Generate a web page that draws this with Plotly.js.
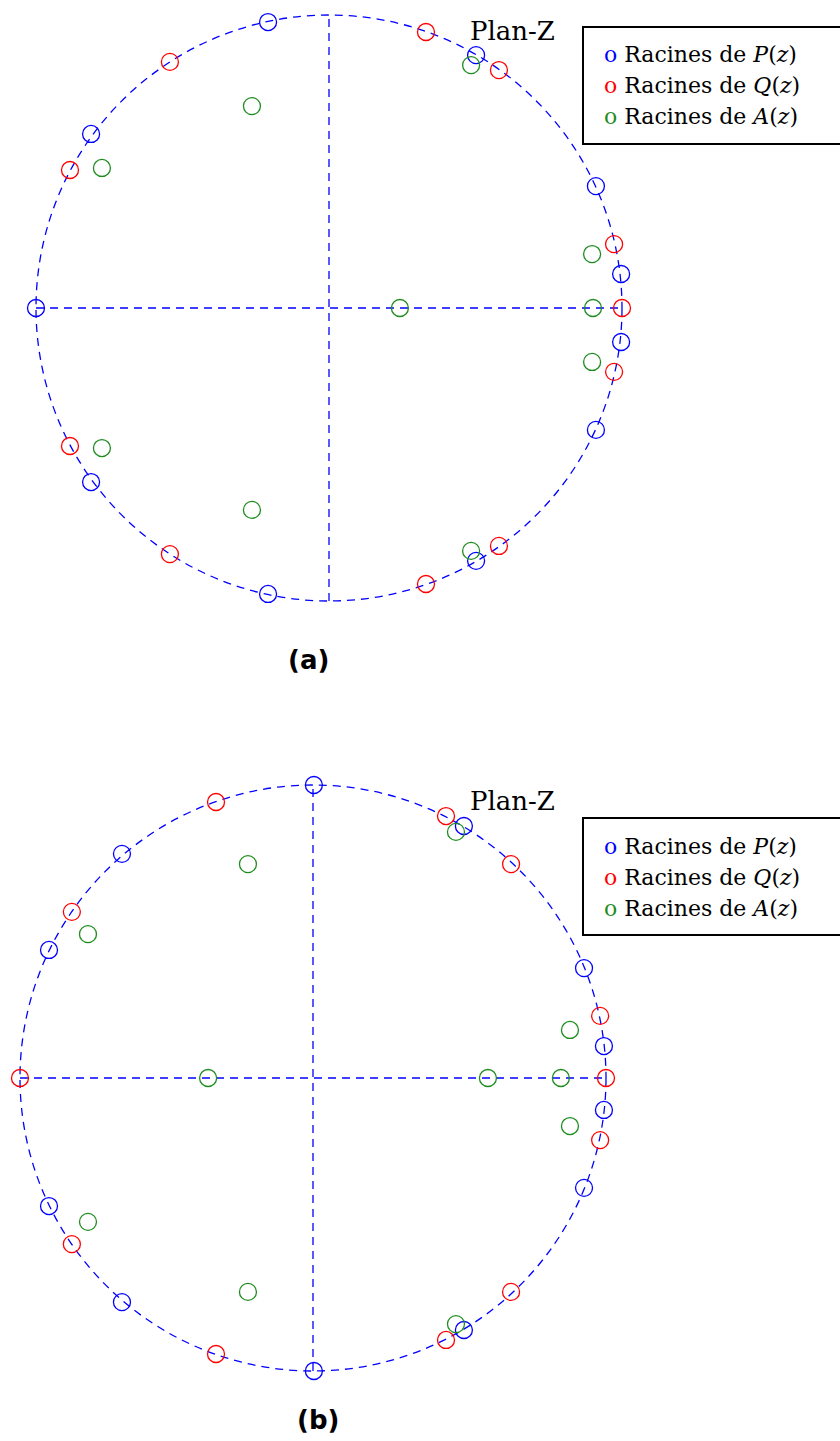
<!DOCTYPE html>
<html>
<head>
<meta charset="utf-8">
<script src="https://cdn.plot.ly/plotly-3.0.1.min.js"></script>
<style>html,body{margin:0;padding:0;background:#fff;}#chart{width:840px;height:1441px;}</style>
</head>
<body>
<div id="chart"></div>
<script>
// Panel (a): roots (real, imaginary parts)
const pA_re = [-1.000, -0.208, -0.208, 0.502, 0.502, -0.812, -0.812, 0.911, 0.911, 0.997, 0.997];
const pA_im = [ 0.000,  0.976, -0.976, 0.863, -0.863, 0.594, -0.594, 0.416, -0.416, 0.116, -0.116];
const qA_re = [1.000, 0.331, 0.331, -0.543, -0.543, 0.580, 0.580, -0.884, -0.884, 0.973, 0.973];
const qA_im = [0.000, 0.942, -0.942, 0.840, -0.840, 0.812, -0.812, 0.471, -0.471, 0.218, -0.218];
const aA_re = [-0.263, -0.263, 0.485, 0.485, -0.775, -0.775, 0.898, 0.898, 0.901, 0.242];
const aA_im = [ 0.689, -0.689, 0.829, -0.829, 0.478, -0.478, 0.184, -0.184, 0.000, 0.000];

// Panel (b)
const pB_re = [0.003, 0.003, 0.515, 0.515, -0.652, -0.652, -0.901, -0.901, 0.925, 0.925, 0.993, 0.993];
const pB_im = [1.000, -1.000, 0.860, -0.860, 0.765, -0.765, 0.437, -0.437, 0.375, -0.375, 0.109, -0.109];
const qB_re = [-0.331, -0.331, 0.454, 0.454, 0.676, 0.676, -0.823, -0.823, 0.980, 0.980, 1.000, -1.000];
const qB_im = [ 0.942, -0.942, 0.894, -0.894, 0.730, -0.730, 0.567, -0.567, 0.212, -0.212, 0.000, 0.000];
const aB_re = [-0.222, -0.222, 0.488, 0.488, -0.768, -0.768, 0.877, 0.877, -0.358, 0.597, 0.846];
const aB_im = [ 0.730, -0.730, 0.840, -0.840, 0.491, -0.491, 0.164, -0.164, 0.000, 0.000, 0.000];

const legendLabels = ['Racines de <i>P</i>(<i>z</i>)', 'Racines de <i>Q</i>(<i>z</i>)', 'Racines de <i>A</i>(<i>z</i>)'];
const panelLabels = ['<b>(a)</b>', '<b>(b)</b>'];
const planeTitle = 'Plan-Z';

const BLUE = 'rgb(0,0,255)', RED = 'rgb(255,0,0)', GREEN = 'rgb(30,140,30)';
const W = 840, H = 1441;

function mk(x, y, color, xa, ya) {
  return {x: x, y: y, type: 'scatter', mode: 'markers', xaxis: xa, yaxis: ya,
    marker: {symbol: 'circle-open', size: 17, color: color, line: {width: 1.3, color: color}},
    cliponaxis: false, showlegend: false, hoverinfo: 'x+y'};
}

const traces = [
  mk(pA_re, pA_im, BLUE, 'x', 'y'),
  mk(qA_re, qA_im, RED, 'x', 'y'),
  mk(aA_re, aA_im, GREEN, 'x', 'y'),
  mk(pB_re, pB_im, BLUE, 'x2', 'y2'),
  mk(qB_re, qB_im, RED, 'x2', 'y2'),
  mk(aB_re, aB_im, GREEN, 'x2', 'y2')
];

const R = 293;
const panels = [{cx: 329, cy: 308, top: 0, bot: 720.5}, {cx: 313, cy: 1078, top: 720.5, bot: 1441}];

function ax(p, domain) {
  return {range: [-p.cx / R, (W - p.cx) / R], domain: domain, showgrid: false, zeroline: false,
    showticklabels: false, ticks: '', showline: false, fixedrange: true};
}
function ay(p, domain) {
  return {range: [(p.cy - p.bot) / R, (p.cy - p.top) / R], domain: domain, showgrid: false, zeroline: false,
    showticklabels: false, ticks: '', showline: false, fixedrange: true};
}

const dashLine = {color: BLUE, width: 1.3, dash: '8px,6px'};
const shapes = [];
[['x', 'y'], ['x2', 'y2']].forEach(function (r) {
  shapes.push({type: 'circle', xref: r[0], yref: r[1], x0: -1, x1: 1, y0: -1, y1: 1, line: dashLine, layer: 'below'});
  shapes.push({type: 'line', xref: r[0], yref: r[1], x0: -1, x1: 1, y0: 0, y1: 0, line: dashLine, layer: 'below'});
  shapes.push({type: 'line', xref: r[0], yref: r[1], x0: 0, x1: 0, y0: -1, y1: 1, line: dashLine, layer: 'below'});
});

const legendBoxes = [{top: 27, bot: 144, rows: [55, 86, 117], title: 31, label: [308, 660]},
                     {top: 818, bot: 935, rows: [846, 877, 908], title: 801, label: [318, 1420]}];
const annotations = [];
const colors = [BLUE, RED, GREEN];
legendBoxes.forEach(function (b) {
  shapes.push({type: 'rect', xref: 'paper', yref: 'paper', x0: 583 / W, x1: 1.02, y0: 1 - b.top / H, y1: 1 - b.bot / H,
    line: {color: 'black', width: 2}, fillcolor: 'rgba(0,0,0,0)'});
  b.rows.forEach(function (py, i) {
    annotations.push({xref: 'paper', yref: 'paper', x: 602 / W, y: 1 - py / H, xanchor: 'left', yanchor: 'middle',
      showarrow: false, text: '<span style="color:' + colors[i] + '">o</span> ' + legendLabels[i],
      font: {family: 'DejaVu Serif', size: 22, color: 'black'}});
  });
  annotations.push({xref: 'paper', yref: 'paper', x: 512 / W, y: 1 - b.title / H, xanchor: 'center', yanchor: 'middle',
    showarrow: false, text: planeTitle, font: {family: 'DejaVu Serif', size: 26, color: 'black'}});
});
legendBoxes.forEach(function (b, i) {
  annotations.push({xref: 'paper', yref: 'paper', x: b.label[0] / W, y: 1 - b.label[1] / H, xanchor: 'center', yanchor: 'middle',
    showarrow: false, text: panelLabels[i], font: {family: 'DejaVu Sans', size: 26, color: 'black'}});
});

const layout = {
  width: W, height: H, margin: {l: 0, r: 0, t: 0, b: 0}, paper_bgcolor: 'white', plot_bgcolor: 'white',
  showlegend: false,
  xaxis: ax(panels[0], [0, 1]), yaxis: ay(panels[0], [0.5, 1]),
  xaxis2: ax(panels[1], [0, 1]), yaxis2: ay(panels[1], [0, 0.5]),
  shapes: shapes, annotations: annotations
};

Plotly.newPlot('chart', traces, layout, {displayModeBar: false, staticPlot: true});
</script>
</body>
</html>
